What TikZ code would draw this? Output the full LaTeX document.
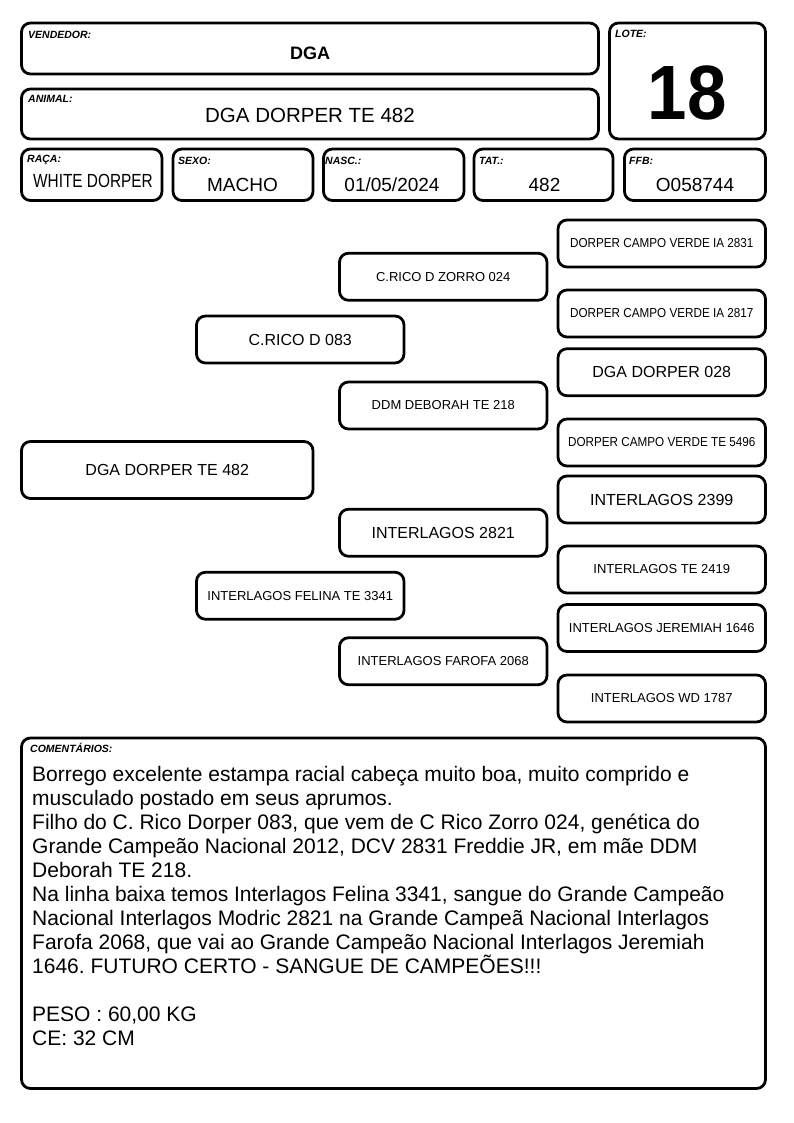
\documentclass[tikz,border=0pt]{standalone}
\usepackage{fontspec}
\setmainfont{Liberation Sans}
\usepackage{graphicx}
\frenchspacing
\begin{document}
\begin{tikzpicture}[x=1pt,y=-1pt,
  box/.style={draw, line width=2.8pt, rounded corners=9pt, inner sep=0pt, align=center},
  ped/.style={box, minimum width=207.5pt, minimum height=47pt},
  lbl/.style={anchor=base west, inner sep=0pt, font=\fontsize{10.5}{12}\selectfont\bfseries\itshape},
  val/.style={anchor=base, inner sep=0pt, font=\fontsize{19}{22}\selectfont},
  sm/.style={font=\fontsize{13}{15}\selectfont},
  bg/.style={font=\fontsize{16}{19}\selectfont}]
\useasboundingbox (0,0) rectangle (794,1123);
% header boxes
\node[box, minimum width=577pt, minimum height=51pt] (vend) at (310,48.5) {};
\node[box, minimum width=577pt, minimum height=50pt] (anim) at (310,114) {};
\node[box, minimum width=156pt, minimum height=116pt] (lote) at (687.5,81) {};
\node[box, minimum width=140.5pt, minimum height=51.5pt] (raca) at (91.75,174.75) {};
\node[box, minimum width=140pt, minimum height=51.5pt] (sexo) at (243,174.75) {};
\node[box, minimum width=140.5pt, minimum height=51.5pt] (nasc) at (393.75,174.75) {};
\node[box, minimum width=139pt, minimum height=51.5pt] (tat) at (543.5,174.75) {};
\node[box, minimum width=141pt, minimum height=51.5pt] (ffb) at (695,174.75) {};
% labels
\node[lbl] (lvend) at (28,39) {VENDEDOR:};
\node[lbl] (lanim) at (28,103) {ANIMAL:};
\node[lbl] (llote) at (615,38) {LOTE:};
\node[lbl] (lraca) at (27,163) {RAÇA:};
\node[lbl] (lsexo) at (178,165) {SEXO:};
\node[lbl] (lnasc) at (325,165) {NASC.:};
\node[lbl] (ltat) at (479,165) {TAT.:};
\node[lbl] (lffb) at (629,165) {FFB:};
% values
\node[anchor=base, inner sep=0pt, font=\fontsize{18}{21}\selectfont\bfseries] (vvend) at (310,60) {DGA};
\node[anchor=base, inner sep=0pt, font=\fontsize{20.5}{24}\selectfont] (vanim) at (310,123) {DGA DORPER TE 482};
\node[anchor=base, inner sep=0pt, font=\fontsize{77}{80}\selectfont\bfseries] (vlote) at (687,120) {\scalebox{0.92}[1]{18}};
\node[val] (vraca) at (93,188) {\scalebox{0.81}[1]{WHITE DORPER}};
\node[val] (vsexo) at (242.5,192) {MACHO};
\node[val] (vnasc) at (392,192) {01/05/2024};
\node[val] (vtat) at (544.5,192) {482};
\node[val] (vffb) at (695,192) {O058744};
% pedigree
\node[box, minimum width=291.5pt, minimum height=57pt, bg] (p0) at (167.25,470) {DGA DORPER TE 482};
\node[ped, bg] (c1) at (300.25,339.5) {C.RICO D 083};
\node[ped, sm] (c2) at (300.25,595.75) {INTERLAGOS FELINA TE 3341};
\node[ped, sm] (m1) at (443.25,276.75) {C.RICO D ZORRO 024};
\node[ped, sm] (m2) at (443.25,405.5) {DDM DEBORAH TE 218};
\node[ped, bg] (m3) at (443.25,532.75) {INTERLAGOS 2821};
\node[ped, sm] (m4) at (443.25,661.25) {INTERLAGOS FAROFA 2068};
\node[ped, sm] (r1) at (661.75,243.5) {\scalebox{0.9}[1]{DORPER CAMPO VERDE IA 2831}};
\node[ped, sm] (r2) at (661.75,313.5) {\scalebox{0.9}[1]{DORPER CAMPO VERDE IA 2817}};
\node[ped, bg] (r3) at (661.75,372.25) {DGA DORPER 028};
\node[ped, sm] (r4) at (661.75,442.5) {\scalebox{0.9}[1]{DORPER CAMPO VERDE TE 5496}};
\node[ped, bg] (r5) at (661.75,499.5) {INTERLAGOS 2399};
\node[ped, sm] (r6) at (661.75,569.5) {INTERLAGOS TE 2419};
\node[ped, sm] (r7) at (661.75,628) {INTERLAGOS JEREMIAH 1646};
\node[ped, sm] (r8) at (661.75,698.5) {INTERLAGOS WD 1787};
% comments
\node[box, minimum width=744pt, minimum height=350.5pt] (com) at (393.5,913.25) {};
\node[lbl] (lcom) at (30,752.5) {COMENTÁRIOS:};
\node[anchor=north west, inner sep=0pt, align=left, font=\fontsize{21}{24}\selectfont] (tcom) at (32,761) {\rule{0pt}{20pt}Borrego excelente estampa racial cabeça muito boa, muito comprido e\\
musculado postado em seus aprumos.\\
Filho do C. Rico Dorper 083, que vem de C Rico Zorro 024, genética do\\
Grande Campeão Nacional 2012, DCV 2831 Freddie JR, em mãe DDM\\
Deborah TE 218.\\
Na linha baixa temos Interlagos Felina 3341, sangue do Grande Campeão\\
Nacional Interlagos Modric 2821 na Grande Campeã Nacional Interlagos\\
Farofa 2068, que vai ao Grande Campeão Nacional Interlagos Jeremiah\\
1646. FUTURO CERTO - SANGUE DE CAMPEÕES!!!\\[24pt]
PESO : 60,00 KG\\
CE: 32 CM};
\end{tikzpicture}
\end{document}
